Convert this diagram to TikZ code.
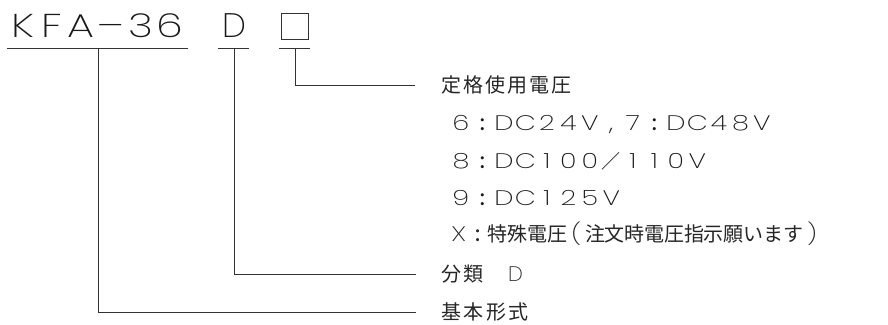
\documentclass[tikz,border=0pt]{standalone}
\usepackage{fontspec}
\setmainfont{Noto Sans CJK JP}
\newfontfamily\latf{Poppins ExtraLight}[FakeStretch=1.3]
\newfontfamily\latn{Poppins ExtraLight}
\newfontfamily\latb{Poppins Medium}
\newcommand\fws{{\rmfamily\fontsize{19}{19}\selectfont ／}}
\newcommand\cln{{\latb :}}
\makeatletter
\newcommand\pitched[2]{\def\pt@w{#1}\pt@loop#2\pt@end}
\def\pt@end{\pt@end}
\def\pt@loop#1{\ifx#1\pt@end\else\makebox[\pt@w][c]{#1}\expandafter\pt@loop\fi}
\makeatother
\tikzset{
  ln/.style={draw=black!80, line width=1pt},
  big/.style={inner sep=0pt, font=\latf\fontsize{33}{33}\selectfont, text=black!90},
  lat/.style={inner sep=0pt, font=\latf\fontsize{21}{21}\selectfont, text=black!90},
  jp/.style={inner sep=0pt, font=\fontsize{20}{20}\selectfont, text=black!85},
}
\begin{document}
\begin{tikzpicture}[x=1pt,y=-1pt]
\useasboundingbox[fill=white] (0,0) rectangle (888,324);
% top labels
\node[big, anchor=base west] (kfa) at (7.5,37) {\pitched{29.5pt}{KFA–36}};
\node[big, anchor=base, font=\latn\fontsize{34}{34}\selectfont] (dl) at (234,37.5) {D};
\node[draw=black!80, line width=1pt, minimum width=27pt, minimum height=26pt, inner sep=0pt] (sq) at (294.5,26) {};
% underlines
\coordinate (u1a) at (7,48); \coordinate (u1b) at (188,48);
\coordinate (u2a) at (218,48); \coordinate (u2b) at (249,48);
\coordinate (u3a) at (279,48); \coordinate (u3b) at (310,48);
\draw[ln] (u1a) -- (u1b);
\draw[ln] (u2a) -- (u2b);
\draw[ln] (u3a) -- (u3b);
% right texts
\node[jp, anchor=west] (t1) at (440,85) {\pitched{22pt}{定格使用電圧}};
\node[lat, anchor=base west] (r6) at (450,130) {\pitched{21.5pt}{6\cln DC24V,7\cln DC48V}};
\node[lat, anchor=base west] (r8) at (450,168) {\pitched{21.5pt}{8\cln DC100\fws110V}};
\node[lat, anchor=base west] (r9) at (450,205) {\pitched{21.5pt}{9\cln DC125V}};
\node[jp, anchor=west] (rx) at (449,234) {{\latf\fontsize{21}{21}\selectfont\pitched{19pt}{X\cln}}\pitched{20pt}{特殊電圧}{\latf\fontsize{21}{21}\selectfont\pitched{18pt}{(}}\pitched{19.8pt}{注文時電圧指示願います}{\latf\fontsize{21}{21}\selectfont\pitched{18pt}{)}}};
\node[jp, anchor=west] (t2) at (440,274) {\pitched{22pt}{分類}\hspace{24pt}{\latn\fontsize{21}{21}\selectfont D}};
\node[jp, anchor=west] (t3) at (440,312) {\pitched{22.5pt}{基本形式}};
% connectors
\coordinate (c3) at (295,48); \coordinate (c2) at (234,48); \coordinate (c1) at (98,48);
\coordinate (e3) at (415,85); \coordinate (e2) at (416,274); \coordinate (e1) at (416,312);
\draw[ln] (c3) |- (e3);
\draw[ln] (c2) |- (e2);
\draw[ln] (c1) |- (e1);
\end{tikzpicture}
\end{document}
